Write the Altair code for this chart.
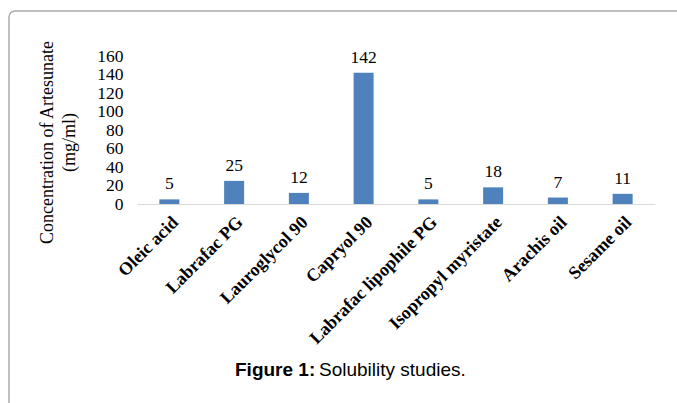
import altair as alt
import pandas as pd

# Solubility of artesunate in oils and lipid excipients (mg/ml)
oils = ["Oleic acid", "Labrafac PG", "Lauroglycol 90", "Capryol 90",
        "Labrafac lipophile PG", "Isopropyl myristate", "Arachis oil", "Sesame oil"]
solubility = [5, 25, 12, 142, 5, 18, 7, 11]
y_ticks = [0, 20, 40, 60, 80, 100, 120, 140, 160]

df = pd.DataFrame({"oil": oils, "conc": solubility})

SERIF = "Liberation Serif"
SANS = "Liberation Sans"

x_enc = alt.X(
    "oil:N", sort=oils, title=None,
    scale=alt.Scale(paddingInner=0, paddingOuter=0),
    axis=alt.Axis(labelAngle=-45, labelFont=SERIF, labelFontWeight="bold",
                  labelFontSize=18, labelColor="black", labelPadding=9,
                  ticks=False, domainColor="#d9d9d9", domainWidth=1,
                  labelLimit=300),
)
y_enc = alt.Y(
    "conc:Q", scale=alt.Scale(domain=[0, 160], nice=False),
    title=["Concentration of Artesunate", "(mg/ml)"],
    axis=alt.Axis(values=y_ticks, grid=False, domain=False, ticks=False,
                  labelOverlap=False, labelSeparation=-8,
                  labelFont=SERIF, labelFontSize=17.5, labelColor="black",
                  labelPadding=14,
                  titleFont=SERIF, titleFontSize=18, titleFontWeight="normal",
                  titleColor="black", titleLineHeight=22,
                  titleX=-90, titleY=86, titleAngle=270,
                  titleBaseline="middle", titleAlign="center"),
)

bars = alt.Chart(df).mark_bar(size=20, color="#4f81bd").encode(x=x_enc, y=y_enc)

values = alt.Chart(df).mark_text(
    font=SERIF, fontSize=17.5, color="black", baseline="alphabetic", dy=-10
).encode(x=x_enc, y=y_enc, text="conc:Q")

# outer frame around the figure
frame_df = pd.DataFrame({"k": [0]})
frame = alt.Chart(frame_df).mark_rect(
    fill=None, stroke="#ababab", strokeWidth=1.5, cornerRadius=6
).encode(x=alt.value(-128), x2=alt.value(620), y=alt.value(-45), y2=alt.value(420))

cap_bold = alt.Chart(frame_df).mark_text(
    text="Figure 1:", font=SANS, fontSize=19, fontWeight="bold",
    align="left", baseline="alphabetic", color="black"
).encode(x=alt.value(98), y=alt.value(320))

cap_text = alt.Chart(frame_df).mark_text(
    text="Solubility studies.", font=SANS, fontSize=19,
    align="left", baseline="alphabetic", color="black"
).encode(x=alt.value(182), y=alt.value(320))

chart = alt.layer(frame, bars, values, cap_bold, cap_text).properties(
    width=518, height=148,
    autosize=alt.AutoSizeParams(type="none"),
    padding={"left": 137, "top": 56, "right": 22, "bottom": 199},
).configure(background="white").configure_view(stroke=None).configure_axis(
    labelOverlap=False
)

chart.save("out.html", embed_options={"renderer": "svg", "actions": False})
